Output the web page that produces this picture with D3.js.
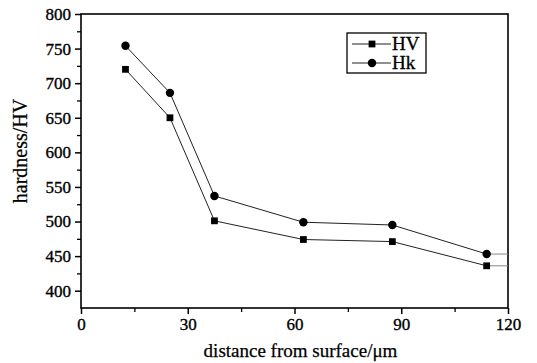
<!DOCTYPE html>
<html>
<head>
<meta charset="utf-8">
<script src="https://cdn.jsdelivr.net/npm/d3@7"></script>
<style>
  body { margin: 0; background: #fff; }
</style>
</head>
<body>
<div class="chart"></div>
<script>
// distance from surface (um) and hardness readings
const distance = [12.5, 25, 37.5, 62.5, 87.5, 114];
const hvValues = [720, 650, 501, 474, 471, 436];
const hkValues = [754, 686, 537, 499, 495, 453];
const xTicks = [0, 30, 60, 90, 120];
const yTicks = [400, 450, 500, 550, 600, 650, 700, 750, 800];

const serif = "'Liberation Serif', 'Times New Roman', serif";
const width = 537, height = 363;
const margin = { top: 14, right: 29, bottom: 55, left: 81 };

const svg = d3.select(".chart").append("svg")
  .attr("width", width)
  .attr("height", height)
  .attr("font-family", serif);

const x = d3.scaleLinear().domain([0, 120]).range([margin.left, width - margin.right]);
const y = d3.scaleLinear().domain([375, 800]).range([height - margin.bottom, margin.top]);

// minor ticks
svg.append("g")
  .attr("transform", `translate(0,${y(375)})`)
  .call(d3.axisBottom(x).tickValues(d3.range(15, 120, 30)).tickSize(4).tickFormat(""))
  .call(g => g.select(".domain").remove())
  .selectAll("line").attr("stroke-width", 1.3);

svg.append("g")
  .attr("transform", `translate(${x(0)},0)`)
  .call(d3.axisLeft(y).tickValues(d3.range(425, 800, 50)).tickSize(4).tickFormat(""))
  .call(g => g.select(".domain").remove())
  .selectAll("line").attr("stroke-width", 1.3);

// major axes
const xAxis = svg.append("g")
  .attr("transform", `translate(0,${y(375)})`)
  .call(d3.axisBottom(x).tickValues(xTicks).tickSize(6).tickPadding(4).tickSizeOuter(0));

const yAxis = svg.append("g")
  .attr("transform", `translate(${x(0)},0)`)
  .call(d3.axisLeft(y).tickValues(yTicks).tickSize(6).tickPadding(4).tickSizeOuter(0));

[xAxis, yAxis].forEach(g => {
  g.attr("font-family", serif).attr("font-size", 17);
  g.select(".domain").remove();
  g.selectAll(".tick line").attr("stroke-width", 1.5);
  g.selectAll(".tick text")
    .attr("fill", "#000")
    .attr("stroke", "#000")
    .attr("stroke-width", 0.35);
});

// frame
svg.append("rect")
  .attr("x", x(0))
  .attr("y", y(800))
  .attr("width", x(120) - x(0))
  .attr("height", y(375) - y(800))
  .attr("fill", "none")
  .attr("stroke", "#000")
  .attr("stroke-width", 1.6);

const line = d3.line().x(d => x(d[0])).y(d => y(d[1]));

function drawSeries(values, symbol) {
  const pts = distance.map((d, i) => [d, values[i]]);
  svg.append("path")
    .attr("d", line(pts))
    .attr("fill", "none")
    .attr("stroke", "#222")
    .attr("stroke-width", 1);
  // tail out to the right frame
  const last = pts[pts.length - 1];
  svg.append("path")
    .attr("d", line([last, [120, last[1]]]))
    .attr("fill", "none")
    .attr("stroke", "#888")
    .attr("stroke-width", 1);
  svg.selectAll(null)
    .data(pts)
    .enter()
    .append("path")
    .attr("transform", d => `translate(${x(d[0])},${y(d[1])})`)
    .attr("d", d3.symbol().type(symbol).size(symbol === d3.symbolSquare ? 46 : 56))
    .attr("fill", "#000");
}

drawSeries(hvValues, d3.symbolSquare);
drawSeries(hkValues, d3.symbolCircle);

// legend
const legend = svg.append("g").attr("transform", "translate(347,33)");
legend.append("rect")
  .attr("width", 79)
  .attr("height", 40)
  .attr("fill", "#fff")
  .attr("stroke", "#000")
  .attr("stroke-width", 1.3);

const legendItems = [
  { name: "HV", symbol: d3.symbolSquare, size: 46 },
  { name: "Hk", symbol: d3.symbolCircle, size: 56 }
];
legendItems.forEach((d, i) => {
  const gy = 11 + i * 19;
  legend.append("line")
    .attr("x1", 5).attr("x2", 44)
    .attr("y1", gy).attr("y2", gy)
    .attr("stroke", "#222").attr("stroke-width", 1);
  legend.append("path")
    .attr("transform", `translate(25,${gy})`)
    .attr("d", d3.symbol().type(d.symbol).size(d.size))
    .attr("fill", "#000");
  legend.append("text")
    .attr("x", 45)
    .attr("y", gy + 6)
    .attr("font-size", 19)
    .attr("stroke", "#000")
    .attr("stroke-width", 0.3)
    .text(d.name);
});

// axis titles
svg.append("text")
  .attr("x", (x(0) + x(120)) / 2 + 6)
  .attr("y", 357)
  .attr("text-anchor", "middle")
  .attr("font-size", 19)
  .attr("stroke", "#000")
  .attr("stroke-width", 0.25)
  .text("distance from surface/μm");

svg.append("text")
  .attr("transform", `translate(27,${(y(800) + y(375)) / 2 - 10}) rotate(-90)`)
  .attr("text-anchor", "middle")
  .attr("font-size", 20)
  .attr("stroke", "#000")
  .attr("stroke-width", 0.25)
  .text("hardness/HV");
</script>
</body>
</html>
